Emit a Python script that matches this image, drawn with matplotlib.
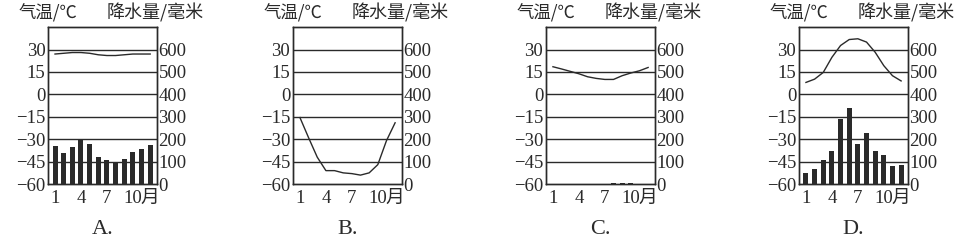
import matplotlib.pyplot as plt

plt.rcParams['font.family'] = ['Liberation Serif', 'Noto Sans CJK SC']

months = list(range(1, 13))
panels = ['A.', 'B.', 'C.', 'D.']

temp_a = [27, 27.5, 28, 28, 27.5, 26.5, 26, 26, 26.5, 27, 27, 27]
rain_a = [172, 140, 167, 197, 179, 119, 107, 98, 110, 145, 157, 175]

temp_b = [-15.5, -29, -42, -51, -51, -52.5, -53, -54, -52.5, -47, -31, -19]
rain_b = [0] * 12

temp_c = [18.5, 17, 15.4, 13.8, 11.8, 10.7, 10, 10, 12.5, 14.3, 15.8, 18]
rain_c = [0, 0, 0, 0, 0, 0, 0, 4, 4, 4, 0, 0]

temp_d = [8, 10.2, 14.7, 24.8, 32.7, 36.7, 37.2, 35, 28.2, 19.2, 12.5, 9]
rain_d = [48, 66, 107, 149, 291, 339, 179, 230, 146, 128, 82, 85]

temps = [temp_a, temp_b, temp_c, temp_d]
rains = [rain_a, rain_b, rain_c, rain_d]

t_ticks = [30, 15, 0, -15, -30, -45, -60]
t_labels = ['30', '15', '0', '\u221215', '\u221230', '\u221245', '\u221260']
r_ticks = [600, 500, 400, 300, 200, 100, 0]
x_ticks = [1, 4, 7, 10, 12]
x_labels = ['1', '4', '7', '10', '月']

ink = '#2a2a2a'
lefts = [0.050, 0.3046, 0.5676, 0.8306]

fig = plt.figure(figsize=(9.62, 2.4), dpi=100)

for i in range(4):
    ax = fig.add_axes([lefts[i], 0.233, 0.1133, 0.654])
    ax2 = ax.twinx()

    # precipitation bars on right axis
    ax2.bar(months, rains[i], width=0.58, color=ink, zorder=2)
    ax2.set_ylim(0, 700)
    ax2.set_yticks(r_ticks)
    ax2.set_yticklabels([str(v) for v in r_ticks])

    # temperature on left axis
    ax.set_ylim(-60, 45)
    ax.set_xlim(0.2, 12.8)
    ax.set_yticks(t_ticks)
    ax.set_yticklabels(t_labels)
    ax.set_xticks(x_ticks)
    ax.set_xticklabels(x_labels)
    for y in t_ticks[:-1]:
        ax2.axhline((y + 60) * 100 / 15, color=ink, lw=1.0, zorder=1)
    ax2.plot(months, [(t + 60) * 100 / 15 for t in temps[i]], color=ink, lw=1.0, zorder=3)

    for a in (ax, ax2):
        for s in a.spines.values():
            s.set_color(ink)
            s.set_linewidth(1.0)
        a.tick_params(length=0, labelsize=13.5, colors=ink)
    ax.tick_params(axis='y', pad=2)
    ax2.tick_params(axis='y', pad=1)
    ax.tick_params(axis='x', pad=4)

    ax.text(-0.275, 1.09, '气温/℃', transform=ax.transAxes, fontsize=12.5,
            color=ink, ha='left', va='center', family=['Noto Sans CJK SC'])
    ax.text(0.54, 1.09, '降水量/毫米', transform=ax.transAxes, fontsize=13,
            color=ink, ha='left', va='center', family=['Noto Sans CJK SC'])
    ax.text(0.5, -0.29, panels[i], transform=ax.transAxes, fontsize=16,
            color=ink, ha='center', va='center')

plt.savefig('out.png', dpi=100)
